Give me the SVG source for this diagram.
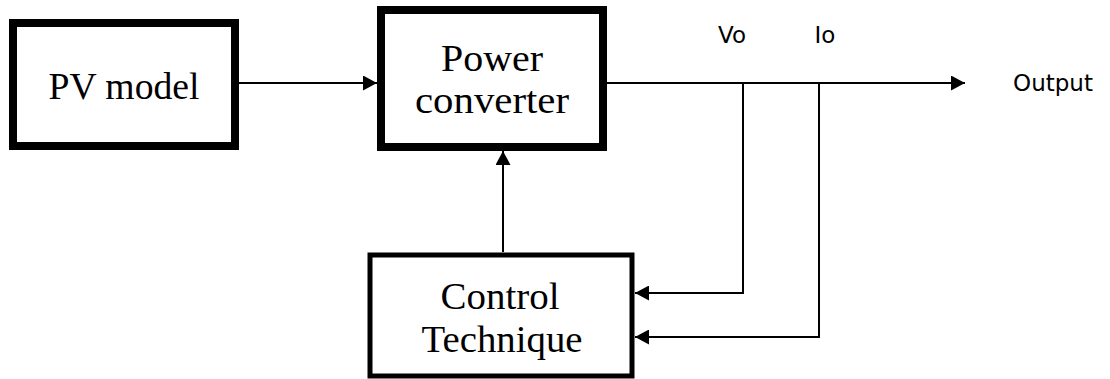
<svg xmlns="http://www.w3.org/2000/svg" width="1110" height="379" viewBox="0 0 1110 379">
<style>
.box{fill:#fff;stroke:#000}
.t{font-family:"Liberation Serif",serif;font-size:38px;fill:#000;text-anchor:middle}
.s{font-family:"DejaVu Sans",sans-serif;font-size:23px;fill:#000;text-anchor:middle}
.w{fill:none;stroke:#000;stroke-width:2}
</style>
<defs>
<marker id="ah" viewBox="0 0 14 15" refX="14" refY="7.5" markerWidth="14" markerHeight="15" markerUnits="userSpaceOnUse" orient="auto">
<path d="M0,0 L14,7.5 L0,15 Z" fill="#000"/>
</marker>
</defs>
<rect width="1110" height="379" fill="#fff"/>
<g id="connectors">
<line class="w" x1="239" y1="83" x2="377" y2="83" marker-end="url(#ah)"/>
<line class="w" x1="607" y1="83" x2="965" y2="83" marker-end="url(#ah)"/>
<line class="w" x1="503" y1="252" x2="503" y2="151" marker-end="url(#ah)"/>
<polyline class="w" points="743,83 743,293 635,293" marker-end="url(#ah)"/>
<polyline class="w" points="819,83 819,337 635,337" marker-end="url(#ah)"/>
</g>
<g id="pv">
<rect class="box" x="13" y="23" width="222" height="123" stroke-width="8"/>
<text class="t" x="124" y="99" textLength="151" lengthAdjust="spacingAndGlyphs">PV model</text>
</g>
<g id="power">
<rect class="box" x="381" y="10" width="222" height="137" stroke-width="8"/>
<text class="t" x="492" y="71" textLength="102" lengthAdjust="spacingAndGlyphs">Power</text>
<text class="t" x="492" y="113" textLength="154" lengthAdjust="spacingAndGlyphs">converter</text>
</g>
<g id="control">
<rect class="box" x="370" y="255" width="262" height="121" stroke-width="5"/>
<text class="t" x="500" y="309" textLength="119" lengthAdjust="spacingAndGlyphs">Control</text>
<text class="t" x="502" y="352" textLength="161" lengthAdjust="spacingAndGlyphs">Technique</text>
</g>
<g id="labels">
<text class="s" x="732" y="43">Vo</text>
<text class="s" x="825" y="43">Io</text>
<text class="s" x="1053" y="91">Output</text>
</g>
</svg>
